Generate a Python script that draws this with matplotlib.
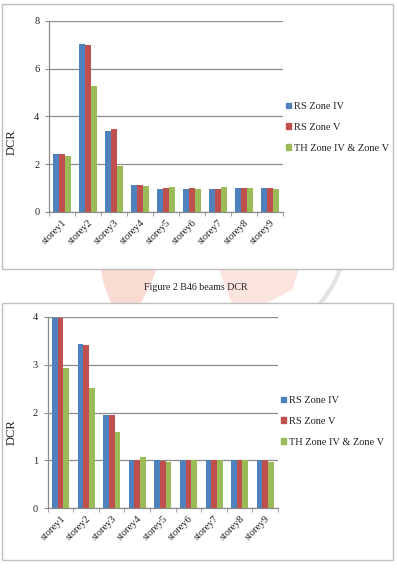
import numpy as np
import matplotlib
matplotlib.use("Agg")
from matplotlib import pyplot as plt
from matplotlib.patches import Rectangle, Polygon, Patch

storeys = ["storey1", "storey2", "storey3", "storey4", "storey5",
           "storey6", "storey7", "storey8", "storey9"]
series = ["RS Zone IV", "RS Zone V", "TH Zone IV & Zone V"]

# first chart
top_rs4 = [2.43, 7.03, 3.40, 1.15, 0.98, 0.97, 0.98, 1.00, 1.00]
top_rs5 = [2.43, 7.00, 3.47, 1.15, 1.00, 1.00, 0.98, 1.00, 1.00]
top_th = [2.35, 5.26, 1.93, 1.08, 1.06, 0.97, 1.04, 1.00, 0.95]

# second chart
bot_rs4 = [3.97, 3.44, 1.94, 1.00, 1.00, 1.00, 1.00, 1.01, 1.00]
bot_rs5 = [3.97, 3.42, 1.94, 1.00, 0.99, 1.00, 1.00, 1.01, 1.00]
bot_th = [2.94, 2.52, 1.59, 1.06, 0.96, 1.01, 1.00, 1.00, 0.96]

colors = ["#4F81BD", "#C0504D", "#9BBB59"]
W, H = 397, 568

plt.rcParams['font.family'] = ['Liberation Serif', 'DejaVu Serif']
txt = "#222222"

fig = plt.figure(figsize=(W / 100, H / 100), dpi=100)

def px(x0, y0, x1, y1):
    # pixel box (from top-left) -> figure fraction rect
    return [x0 / W, 1 - y1 / H, (x1 - x0) / W, (y1 - y0) / H]

# faint watermark behind the caption
wm = [
    ([(100, 266), (158, 266), (150, 285), (140, 305), (112, 305), (104, 285)], "#FADBD4"),
    ([(218, 266), (300, 266), (292, 290), (262, 305), (232, 305)], "#FBE3DE"),
]
for pts, c in wm:
    fig.patches.append(Polygon([(x / W, 1 - y / H) for x, y in pts], closed=True,
                               transform=fig.transFigure, facecolor=c,
                               edgecolor="none", zorder=0))
t = np.linspace(0, 1, 30)
fig.lines.append(plt.Line2D((340 - 22 * t ** 1.5) / W, 1 - (266 + 40 * t) / H,
                            transform=fig.transFigure, color="#E3E3E3", lw=3, zorder=0))

# chart frames
for box in [(2, 4, 393, 269), (2, 302.7, 393, 560)]:
    fig.patches.append(Rectangle((box[0] / W, 1 - box[3] / H), (box[2] - box[0]) / W,
                                 (box[3] - box[1]) / H, transform=fig.transFigure,
                                 facecolor="white", edgecolor="#BFBFBF", lw=1, zorder=1))

def draw(rect, data, ymax, legend_xy, dcr_y):
    ax = fig.add_axes(rect)
    ax.set_zorder(2)
    ax.patch.set_alpha(0)
    x = np.arange(len(storeys))
    w = 0.222
    for i, (vals, c) in enumerate(zip(data, colors)):
        ax.bar(x + (i - 1) * w, vals, w, color=c, label=series[i], zorder=3)
    ax.set_xlim(-0.5, len(storeys) - 0.5)
    ax.set_ylim(0, ymax)
    ax.set_yticks(np.arange(0, ymax + 1, 2 if ymax > 4 else 1))
    ax.yaxis.grid(True, color="#8C8C8C", lw=0.9, zorder=0)
    for s in ["top", "right"]:
        ax.spines[s].set_visible(False)
    for s in ["left", "bottom"]:
        ax.spines[s].set_color("#8C8C8C")
        ax.spines[s].set_linewidth(0.9)
    ax.set_xticks(x)
    ax.set_xticklabels(storeys, rotation=45, ha="right", rotation_mode="anchor",
                       fontsize=7.5, color=txt)
    ax.tick_params(axis="x", length=0, pad=4)
    ax.set_xticks(np.arange(-0.5, len(storeys)), minor=True)
    ax.tick_params(axis="x", which="minor", length=3, color="#8C8C8C")
    ax.tick_params(axis="y", length=3, color="#8C8C8C", labelsize=7.5,
                   labelcolor=txt, pad=4)
    handles = [Patch(color=c) for c in colors]
    fig.legend(handles, series, loc="center left", bbox_to_anchor=legend_xy,
               frameon=False, fontsize=7.5, handlelength=0.45, handleheight=0.45,
               handletextpad=0.3, labelspacing=1.15, borderpad=0, labelcolor=txt)
    fig.text(12 / W, 1 - dcr_y / H, "DCR", rotation=90, ha="center", va="center",
             fontsize=9, color=txt)

draw(px(49, 21, 283, 212), [top_rs4, top_rs5, top_th], 8, (281 / W, 1 - 127.5 / H), 142)
draw(px(47.7, 317, 278, 508), [bot_rs4, bot_rs5, bot_th], 4, (276 / W, 1 - 421.5 / H), 432)

fig.text(196 / W, 1 - 287 / H, "Figure 2 B46 beams DCR", ha="center", va="center",
         fontsize=7.2, color=txt)

fig.savefig("out.png", dpi=100)
